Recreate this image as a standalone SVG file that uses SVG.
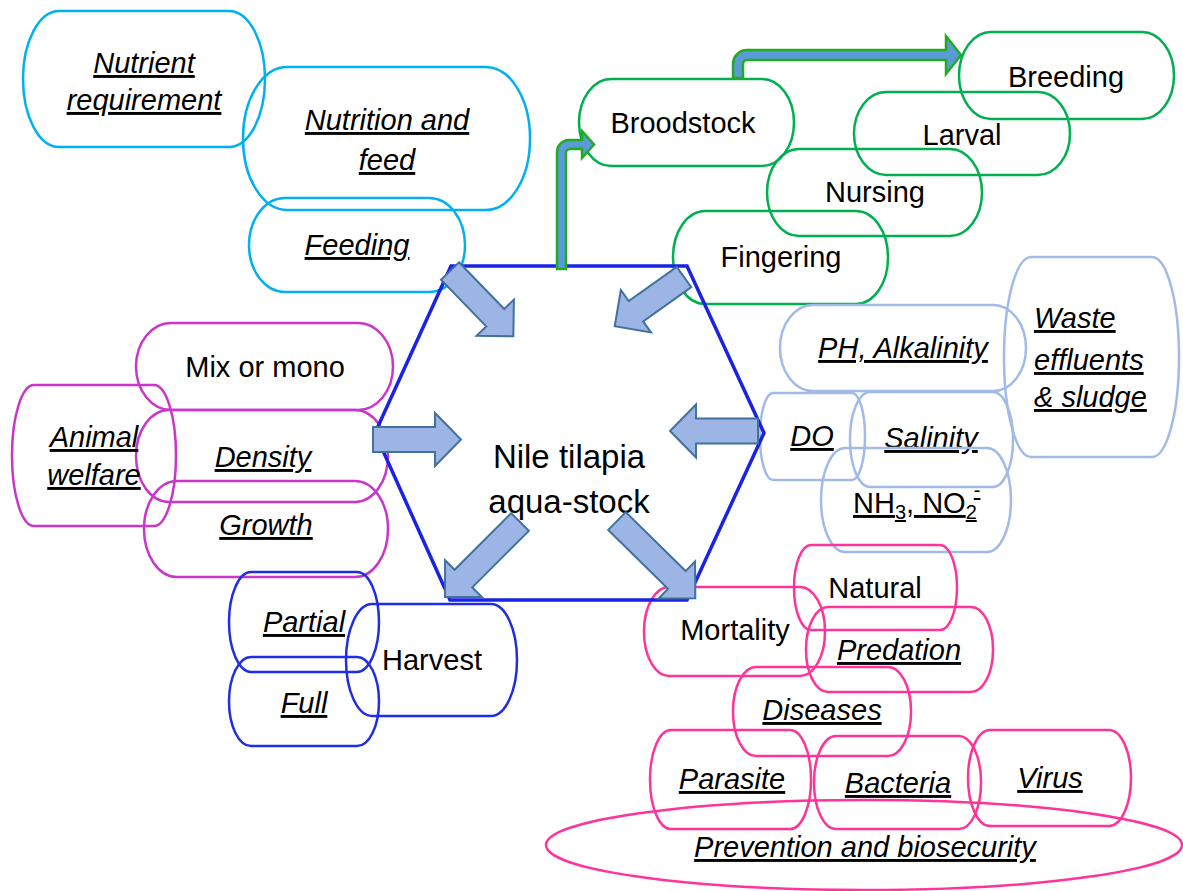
<svg xmlns="http://www.w3.org/2000/svg" width="1183" height="891" viewBox="0 0 1183 891">
<style>
.n{fill:none;stroke-width:2.5}
.cy{stroke:#00b0f0}
.gr{stroke:#00b050}
.mg{stroke:#c936c9}
.bl{stroke:#1f2ee6}
.lb{stroke:#a2bae8}
.pk{stroke:#ff3399}
.t{font-family:"Liberation Sans",Arial,sans-serif;font-size:29px;fill:#000;text-anchor:middle}
.c{font-size:33px}
.s{text-anchor:start}
.i{font-style:italic;text-decoration:underline}
.u{text-decoration:underline}
.sb{font-size:20px}
.arr{fill:#9cb5e5;stroke:#41719c;stroke-width:2;stroke-linejoin:miter}
.garr{fill:#5b9bd5;stroke:#22aa22;stroke-width:2.5}
</style>
<rect width="1183" height="891" fill="#fff"/>
<g id="nodes-nutrition">
<g id="nutrient"><rect class="n cy" x="23" y="11" width="242" height="136" rx="36" ry="68"/><text class="t i" x="144" y="73">Nutrient</text><text class="t i" x="144" y="110">requirement</text></g>
<g id="nutrition"><rect class="n cy" x="243" y="67" width="287" height="143" rx="44" ry="71"/><text class="t i" x="387" y="130">Nutrition and</text><text class="t i" x="387" y="170">feed</text></g>
<g id="feeding"><rect class="n cy" x="249" y="198" width="216" height="94" rx="36" ry="47"/><text class="t i" x="357" y="255">Feeding</text></g>
</g>
<g id="nodes-stages">
<g id="broodstock"><rect class="n gr" x="579" y="79" width="215" height="87" rx="32" ry="44"/><text class="t" x="683" y="133">Broodstock</text></g>
<g id="breeding"><rect class="n gr" x="959" y="32" width="215" height="87" rx="32" ry="44"/><text class="t" x="1066" y="87">Breeding</text></g>
<g id="larval"><rect class="n gr" x="854" y="92" width="216" height="83" rx="32" ry="42"/><text class="t" x="962" y="145">Larval</text></g>
<g id="nursing"><rect class="n gr" x="767" y="149" width="215" height="87" rx="32" ry="44"/><text class="t" x="875" y="202">Nursing</text></g>
<g id="fingering"><rect class="n gr" x="673" y="211" width="215" height="93" rx="32" ry="46"/><text class="t" x="781" y="267">Fingering</text></g>
</g>
<g id="nodes-stocking">
<g id="mix"><rect class="n mg" x="136" y="323" width="257" height="87" rx="35" ry="44"/><text class="t" x="265" y="377">Mix or mono</text></g>
<g id="density"><rect class="n mg" x="136" y="410" width="252" height="92" rx="33" ry="46"/><text class="t i" x="263" y="467">Density</text></g>
<g id="growth"><rect class="n mg" x="144" y="481" width="244" height="96" rx="33" ry="48"/><text class="t i" x="266" y="535">Growth</text></g>
<g id="animal"><rect class="n mg" x="12" y="385" width="164" height="141" rx="22" ry="70"/><text class="t i" x="94" y="447">Animal</text><text class="t i" x="94" y="485">welfare</text></g>
</g>
<g id="nodes-harvest">
<g id="partial"><rect class="n bl" x="229" y="572" width="150" height="100" rx="22" ry="50"/><text class="t i" x="304" y="632">Partial</text></g>
<g id="full"><rect class="n bl" x="229" y="657" width="150" height="89" rx="22" ry="45"/><text class="t i" x="304" y="713">Full</text></g>
<g id="harvest"><rect class="n bl" x="346" y="604" width="171" height="112" rx="26" ry="56"/><text class="t" x="432" y="670">Harvest</text></g>
</g>
<g id="nodes-water">
<g id="ph"><rect class="n lb" x="780" y="305" width="246" height="86" rx="33" ry="43"/><text class="t i" x="903" y="358">PH, Alkalinity</text></g>
<g id="waste"><rect class="n lb" x="1004" y="257" width="175" height="200" rx="27" ry="100"/><text class="t i s" x="1034" y="328">Waste</text><text class="t i s" x="1034" y="370">effluents</text><text class="t i s" x="1034" y="407">&amp; sludge</text></g>
<g id="do"><rect class="n lb" x="760" y="393" width="105" height="87" rx="13" ry="43"/><text class="t i" x="812" y="446">DO</text></g>
<g id="salinity"><rect class="n lb" x="850" y="392" width="163" height="95" rx="20" ry="47"/><text class="t i" x="931" y="448">Salinity</text></g>
<g id="nh"><rect class="n lb" x="821" y="448" width="190" height="104" rx="24" ry="52"/><text class="t s u" x="853" y="513">NH<tspan class="sb" dy="6">3</tspan><tspan dy="-6">, NO</tspan><tspan class="sb" dy="6">2</tspan><tspan class="sb" dx="-3" dy="-22">-</tspan></text></g>
</g>
<g id="nodes-mortality">
<g id="natural"><rect class="n pk" x="794" y="545" width="163" height="85" rx="17" ry="42"/><text class="t" x="875" y="598">Natural</text></g>
<g id="mortality"><rect class="n pk" x="644" y="587" width="181" height="89" rx="25" ry="44"/><text class="t" x="735" y="640">Mortality</text></g>
<g id="predation"><rect class="n pk" x="806" y="607" width="187" height="85" rx="22" ry="42"/><text class="t i" x="899" y="660">Predation</text></g>
<g id="diseases"><rect class="n pk" x="733" y="667" width="178" height="89" rx="23" ry="44"/><text class="t i" x="822" y="720">Diseases</text></g>
<g id="parasite"><rect class="n pk" x="650" y="730" width="161" height="99" rx="21" ry="49"/><text class="t i" x="732" y="789">Parasite</text></g>
<g id="bacteria"><rect class="n pk" x="814" y="736" width="167" height="93" rx="22" ry="46"/><text class="t i" x="898" y="793">Bacteria</text></g>
<g id="virus"><rect class="n pk" x="968" y="730" width="163" height="96" rx="22" ry="48"/><text class="t i" x="1050" y="788">Virus</text></g>
<g id="prevention"><ellipse class="n pk" cx="864" cy="845" rx="318" ry="45"/><text class="t i" x="865" y="857">Prevention and biosecurity</text></g>
</g>
<g id="center">
<polygon points="451,266 687,266 764,433 687,600 450,600 375,433" fill="none" stroke="#1a22e6" stroke-width="3.5"/>
<text class="t c" x="569" y="468">Nile tilapia</text>
<text class="t c" x="569" y="513">aqua-stock</text>
</g>
<g id="connectors">
<polygon class="arr" transform="translate(373,439.5)" points="0,-12.5 62,-12.5 62,-26.5 88,0 62,26.5 62,12.5 0,12.5"/>
<polygon class="arr" transform="translate(758,431) rotate(180)" points="0,-12.5 62,-12.5 62,-26.5 88,0 62,26.5 62,12.5 0,12.5"/>
<polygon class="arr" transform="translate(450,271) rotate(45.9)" points="0,-12.5 65,-12.5 65,-26 91,0 65,26 65,12.5 0,12.5"/>
<polygon class="arr" transform="translate(684,277) rotate(144.6)" points="0,-12.5 59,-12.5 59,-26 85,0 59,26 59,12.5 0,12.5"/>
<polygon class="arr" transform="translate(520,522) rotate(135)" points="0,-12.5 80,-12.5 80,-26 106,0 80,26 80,12.5 0,12.5"/>
<polygon class="arr" transform="translate(617,521) rotate(44.6)" points="0,-12.5 84,-12.5 84,-26 110,0 84,26 84,12.5 0,12.5"/>
<path class="garr" d="M557,269 V152 A12,12 0 0 1 569,140 H582 V131 L594,144.5 L582,158 V149 H570 A4,4 0 0 0 566,153 V269 Z"/>
<path class="garr" d="M733,78 V64 A14,14 0 0 1 747,50 H946 V36 L961,55 L946,74 V60 H747 A4,4 0 0 0 743,64 V78 Z"/>
</g>
</svg>
